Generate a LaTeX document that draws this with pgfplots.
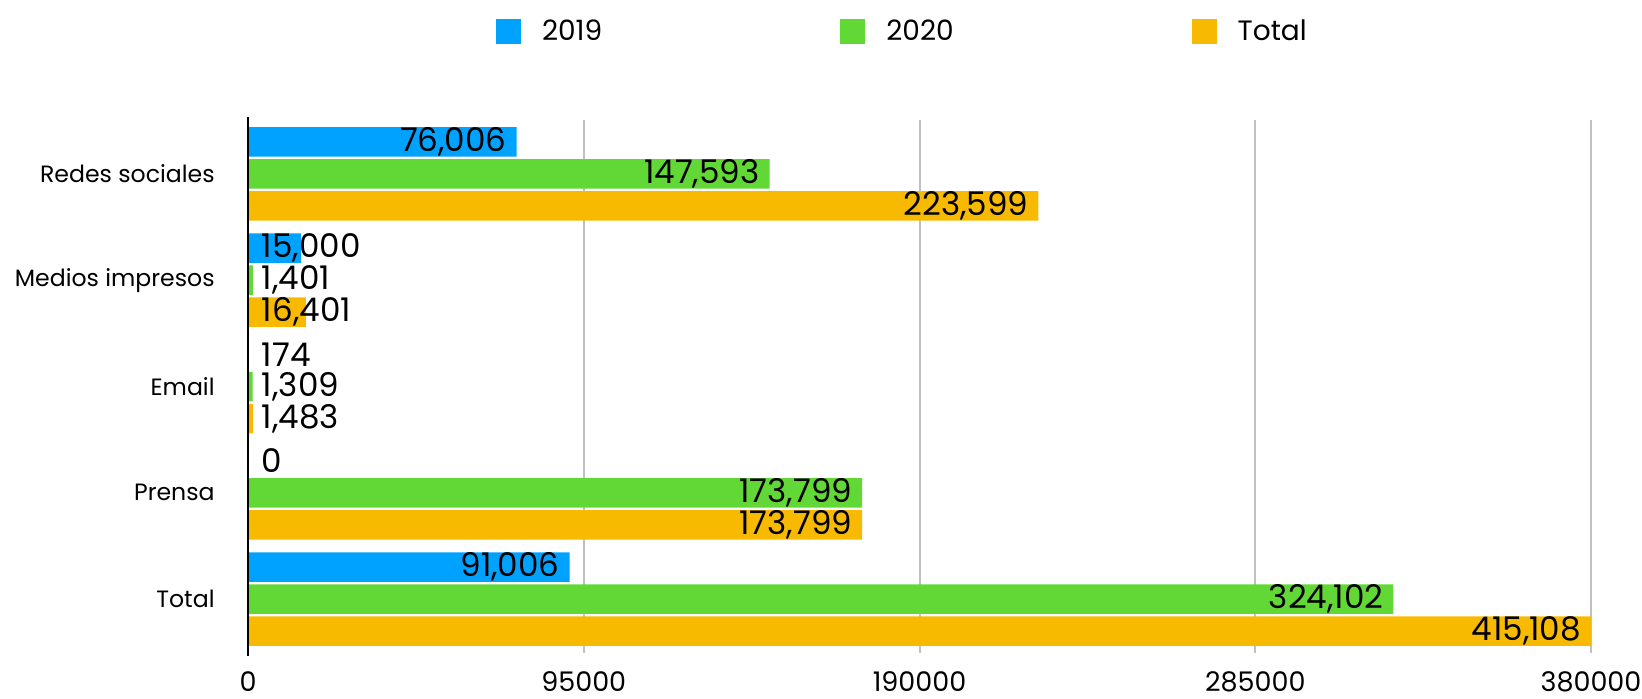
\documentclass[border=0pt]{standalone}
\usepackage{pgfplots}
\usepackage{pgfplotstable}
\pgfplotsset{compat=1.18}
\usepackage{fontspec}
\setmainfont{Poppins}
\definecolor{cA}{HTML}{00A2FF}
\definecolor{cB}{HTML}{61D836}
\definecolor{cC}{HTML}{F8BA00}
\definecolor{gridc}{HTML}{C0C0C0}

% rows: Redes sociales, Medios impresos, Email, Prensa, Total
\pgfplotstableread{
y x lx lab
4 76006 76006 76,006
3 15000 15000 15,000
2 174 174 174
1 0 0 0
0 91006 91006 91,006
}\tA
\pgfplotstableread{
y x lx lab
4 147593 147593 147,593
3 1401 1401 1,401
2 1309 1309 1,309
1 173799 173799 173,799
0 324102 324102 324,102
}\tB
\pgfplotstableread{
y x lx lab
4 223599 223599 223,599
3 16401 16401 16,401
2 1483 1483 1,483
1 173799 173799 173,799
0 415108 380000 415,108
}\tC

\pgfplotsset{
  lbl/.style={xbar, bar width=14.75pt, draw=none, fill=none, forget plot,
    nodes near coords, point meta=explicit symbolic,
    nodes near coords style={inner sep=0pt, outer xsep=5pt, outer ysep=0pt, font=\fontsize{16.3}{19}\selectfont, text=black}},
  lblE/.style={lbl, nodes near coords style={anchor=east, yshift=#1}},
  lblW/.style={lbl, nodes near coords style={anchor=west, yshift=#1, xshift=2pt}},
}

\begin{document}
\begin{tikzpicture}
\begin{axis}[
  scale only axis,
  width=671.5pt, height=266.5pt,
  xmin=0, xmax=380000,
  ymin=-0.508, ymax=4.508,
  xtick={0,95000,190000,285000,380000},
  xticklabels={0,95000,190000,285000,380000},
  ytick={0,1,2,3,4},
  yticklabels={Total,Prensa,Email,Medios impresos,Redes sociales},
  major tick length=0pt,
  axis line style={draw=none},
  xmajorgrids, grid style={gridc, line width=1pt},
  xticklabel style={inner sep=0pt, yshift=-9pt, font=\fontsize{13.5}{16}\selectfont},
  yticklabel style={inner sep=0pt, xshift=-16.5pt, font=\fontsize{11.8}{14}\selectfont},
  legend columns=3,
  legend style={draw=none, fill=none, inner sep=0pt, outer sep=0pt,
    at={(axis description cs:0.1847,1.166)}, anchor=west,
    font=\fontsize{14}{16}\selectfont,
    nodes={inner sep=0pt, anchor=west},
    /tikz/every odd column/.append style={column sep=10.5pt},
    /tikz/every even column/.append style={column sep=119pt}},
  legend image code/.code={\fill[#1] (0pt,-6.25pt) rectangle (12.5pt,6.25pt);},
]
\addplot[xbar, bar width=14.75pt, bar shift=16pt, fill=cA, draw=none] table[x=x,y=y]{\tA};
\addlegendentry{2019}
\addplot[xbar, bar width=14.75pt, bar shift=0pt, fill=cB, draw=none] table[x=x,y=y]{\tB};
\addlegendentry{2020}
\addplot[xbar, bar width=14.75pt, bar shift=-16pt, fill=cC, draw=none] table[x=x,y=y]{\tC};
\addlegendentry{Total}
% labels at bar end (inside) for long bars
\addplot[lblE=16pt, skip coords between index={1}{4}] table[x=lx,y=y,meta=lab]{\tA};
\addplot[lblE=0pt, skip coords between index={1}{3}] table[x=lx,y=y,meta=lab]{\tB};
\addplot[lblE=-16pt, skip coords between index={1}{3}] table[x=lx,y=y,meta=lab]{\tC};
% labels from the axis for short bars
\addplot[lblW=16pt, skip coords between index={0}{1}, skip coords between index={4}{5}] table[x expr=0,y=y,meta=lab]{\tA};
\addplot[lblW=0pt, skip coords between index={0}{1}, skip coords between index={3}{5}] table[x expr=0,y=y,meta=lab]{\tB};
\addplot[lblW=-16pt, skip coords between index={0}{1}, skip coords between index={3}{5}] table[x expr=0,y=y,meta=lab]{\tC};
\end{axis}
\draw[line width=1.1pt, black] ([yshift=-1.5pt]current axis.south west) -- ([yshift=1.5pt]current axis.north west);
\pgfresetboundingbox
\path ([shift={(-124pt,-22.5pt)}]current axis.south west) rectangle ([shift={(697pt,326.5pt)}]current axis.south west);
\end{tikzpicture}
\end{document}
